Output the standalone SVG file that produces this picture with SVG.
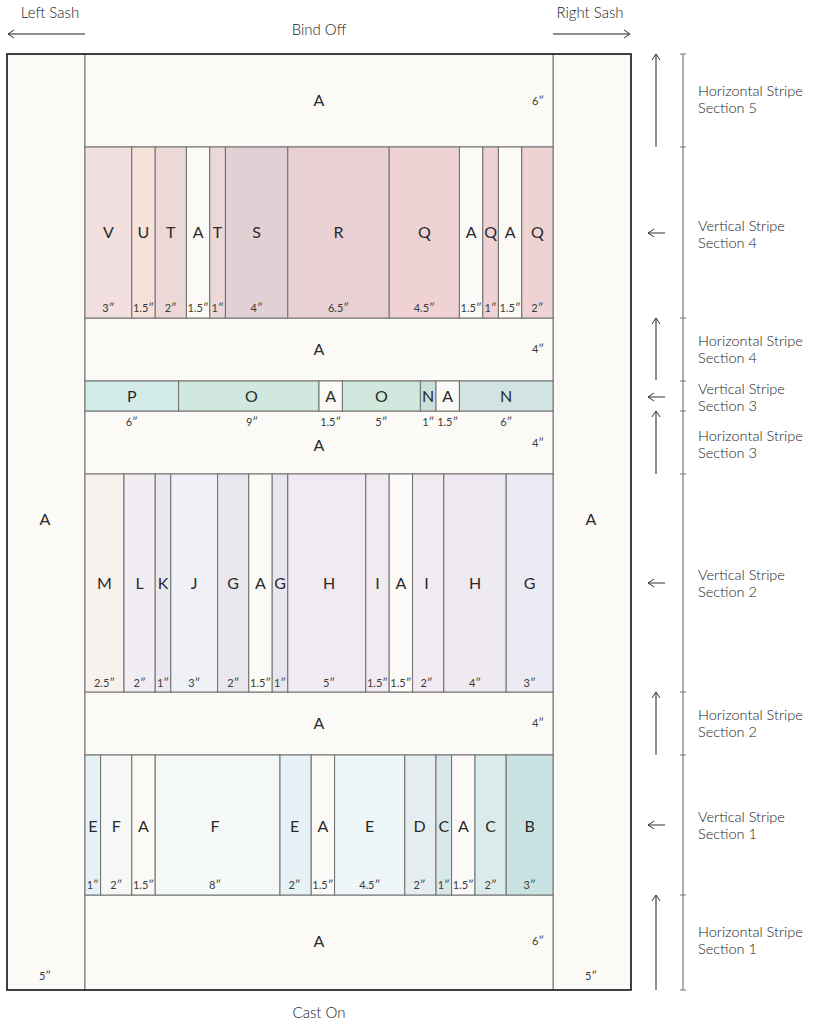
<svg xmlns="http://www.w3.org/2000/svg" width="819" height="1024" viewBox="0 0 819 1024">
<style>
.bg{fill:#ffffff}
.p{stroke:#6e6e6e;stroke-width:1}
.cr{fill:#fcfaf6}
.L{font-family:Lato,"Open Sans","Liberation Sans",sans-serif;font-size:16px;fill:#2a2a2a;text-anchor:middle}
.w{font-family:Lato,"Open Sans","Liberation Sans",sans-serif;font-size:11px;fill:#3a3a3a;text-anchor:middle}
.t{font-family:Lato,"Open Sans","Liberation Sans",sans-serif;font-size:14.5px;font-weight:300;fill:#222}
.h{font-family:Lato,"Open Sans","Liberation Sans",sans-serif;font-size:15px;font-weight:300;fill:#222;text-anchor:middle}
.ar{stroke:#6a6a6a;stroke-width:1.5;fill:none}
.ah{stroke:#333;stroke-width:1;fill:none}
.sc{stroke:#777;stroke-width:1.2;fill:none}
</style>
<defs>
<marker id="head" markerWidth="10" markerHeight="10" refX="9" refY="5" orient="auto" markerUnits="userSpaceOnUse">
<path d="M3,1 L9,5 L3,9" fill="none" stroke="#333" stroke-width="1"/>
</marker>
</defs>
<rect class="bg" x="0" y="0" width="819" height="1024"/>

<!-- Header labels -->
<text class="h" x="50" y="18">Left Sash</text>
<text class="h" x="319" y="35">Bind Off</text>
<text class="h" x="590" y="18">Right Sash</text>
<text class="h" x="319" y="1018">Cast On</text>

<!-- Sashes -->
<g id="left-sash"><rect class="cr p" x="7" y="54" width="78" height="936"/><text class="L" x="45" y="525">A</text><text class="w" x="45" y="980">5″</text></g>
<g id="right-sash"><rect class="cr p" x="553" y="54" width="78" height="936"/><text class="L" x="591" y="525">A</text><text class="w" x="591" y="980">5″</text></g>

<!-- Horizontal stripes -->
<g id="hs5"><rect class="cr p" x="85" y="54" width="468" height="93"/><text class="L" x="319" y="106">A</text><text class="w" x="538" y="105">6″</text></g>
<g id="hs4"><rect class="cr p" x="85" y="318" width="468" height="63"/><text class="L" x="319" y="355">A</text><text class="w" x="538" y="353">4″</text></g>
<g id="hs3"><rect class="cr p" x="85" y="411" width="468" height="63"/><text class="L" x="319" y="451">A</text><text class="w" x="538" y="447">4″</text></g>
<g id="hs2"><rect class="cr p" x="85" y="692" width="468" height="63"/><text class="L" x="319" y="729">A</text><text class="w" x="538" y="727">4″</text></g>
<g id="hs1"><rect class="cr p" x="85" y="895" width="468" height="95"/><text class="L" x="319" y="947">A</text><text class="w" x="538" y="945">6″</text></g>

<!-- Vertical stripe section 4 -->
<g id="v4-V"><rect class="p" fill="#f2dfe0" x="85" y="147" width="46.8" height="171"/><text class="L" x="108.4" y="238">V</text><text class="w" x="108.4" y="312">3″</text></g>
<g id="v4-U"><rect class="p" fill="#f6e2d8" x="131.8" y="147" width="23.4" height="171"/><text class="L" x="143.5" y="238">U</text><text class="w" x="143.5" y="312">1.5″</text></g>
<g id="v4-T1"><rect class="p" fill="#ecd8d6" x="155.2" y="147" width="31.2" height="171"/><text class="L" x="170.8" y="238">T</text><text class="w" x="170.8" y="312">2″</text></g>
<g id="v4-A1"><rect class="p cr" x="186.4" y="147" width="23.4" height="171"/><text class="L" x="198.1" y="238">A</text><text class="w" x="198.1" y="312">1.5″</text></g>
<g id="v4-T2"><rect class="p" fill="#ecd8d6" x="209.8" y="147" width="15.6" height="171"/><text class="L" x="217.6" y="238">T</text><text class="w" x="217.6" y="312">1″</text></g>
<g id="v4-S"><rect class="p" fill="#e2d1d4" x="225.4" y="147" width="62.4" height="171"/><text class="L" x="256.6" y="238">S</text><text class="w" x="256.6" y="312">4″</text></g>
<g id="v4-R"><rect class="p" fill="#e9d0d4" x="287.8" y="147" width="101.4" height="171"/><text class="L" x="338.5" y="238">R</text><text class="w" x="338.5" y="312">6.5″</text></g>
<g id="v4-Q1"><rect class="p" fill="#eed2d4" x="389.2" y="147" width="70.2" height="171"/><text class="L" x="424.3" y="238">Q</text><text class="w" x="424.3" y="312">4.5″</text></g>
<g id="v4-A2"><rect class="p cr" x="459.4" y="147" width="23.4" height="171"/><text class="L" x="471.1" y="238">A</text><text class="w" x="471.1" y="312">1.5″</text></g>
<g id="v4-Q2"><rect class="p" fill="#eed2d4" x="482.8" y="147" width="15.6" height="171"/><text class="L" x="490.6" y="238">Q</text><text class="w" x="490.6" y="312">1″</text></g>
<g id="v4-A3"><rect class="p cr" x="498.4" y="147" width="23.4" height="171"/><text class="L" x="510.1" y="238">A</text><text class="w" x="510.1" y="312">1.5″</text></g>
<g id="v4-Q3"><rect class="p" fill="#efd3d3" x="521.8" y="147" width="31.2" height="171"/><text class="L" x="537.4" y="238">Q</text><text class="w" x="537.4" y="312">2″</text></g>

<!-- Vertical stripe section 3 -->
<g id="v3-P"><rect class="p" fill="#d4ece8" x="85" y="381" width="93.6" height="30"/><text class="L" x="131.8" y="402">P</text><text class="w" x="131.8" y="426">6″</text></g>
<g id="v3-O1"><rect class="p" fill="#d0e8dd" x="178.6" y="381" width="140.4" height="30"/><text class="L" x="251.5" y="402">O</text><text class="w" x="252" y="426">9″</text></g>
<g id="v3-A1"><rect class="p cr" x="319" y="381" width="23.4" height="30"/><text class="L" x="330.7" y="402">A</text><text class="w" x="330.7" y="426">1.5″</text></g>
<g id="v3-O2"><rect class="p" fill="#d0e8dd" x="342.4" y="381" width="78" height="30"/><text class="L" x="381.4" y="402">O</text><text class="w" x="381.4" y="426">5″</text></g>
<g id="v3-N1"><rect class="p" fill="#c9e0dd" x="420.4" y="381" width="15.6" height="30"/><text class="L" x="428.2" y="402">N</text><text class="w" x="428.2" y="426">1″</text></g>
<g id="v3-A2"><rect class="p cr" x="436" y="381" width="23.4" height="30"/><text class="L" x="447.7" y="402">A</text><text class="w" x="447.7" y="426">1.5″</text></g>
<g id="v3-N2"><rect class="p" fill="#d1e4e2" x="459.4" y="381" width="93.6" height="30"/><text class="L" x="506.2" y="402">N</text><text class="w" x="506.2" y="426">6″</text></g>

<!-- Vertical stripe section 2 -->
<g id="v2-M"><rect class="p" fill="#f8f2ef" x="85" y="474" width="39" height="218"/><text class="L" x="104.5" y="589">M</text><text class="w" x="104.5" y="687">2.5″</text></g>
<g id="v2-L"><rect class="p" fill="#f2edf2" x="124" y="474" width="31.2" height="218"/><text class="L" x="139.6" y="589">L</text><text class="w" x="139.6" y="687">2″</text></g>
<g id="v2-K"><rect class="p" fill="#ebe8f0" x="155.2" y="474" width="15.6" height="218"/><text class="L" x="163" y="589">K</text><text class="w" x="163" y="687">1″</text></g>
<g id="v2-J"><rect class="p" fill="#eff1f7" x="170.8" y="474" width="46.8" height="218"/><text class="L" x="194.2" y="589">J</text><text class="w" x="194.2" y="687">3″</text></g>
<g id="v2-G1"><rect class="p" fill="#e9e6ee" x="217.6" y="474" width="31.2" height="218"/><text class="L" x="233.2" y="589">G</text><text class="w" x="233.2" y="687">2″</text></g>
<g id="v2-A1"><rect class="p cr" x="248.8" y="474" width="23.4" height="218"/><text class="L" x="260.5" y="589">A</text><text class="w" x="260.5" y="687">1.5″</text></g>
<g id="v2-G2"><rect class="p" fill="#e8e6ef" x="272.2" y="474" width="15.6" height="218"/><text class="L" x="280" y="589">G</text><text class="w" x="280" y="687">1″</text></g>
<g id="v2-H1"><rect class="p" fill="#f0ebf2" x="287.8" y="474" width="78" height="218"/><text class="L" x="329" y="589">H</text><text class="w" x="329" y="687">5″</text></g>
<g id="v2-I1"><rect class="p" fill="#f1ebf1" x="365.8" y="474" width="23.4" height="218"/><text class="L" x="377.5" y="589">I</text><text class="w" x="377.5" y="687">1.5″</text></g>
<g id="v2-A2"><rect class="p cr" x="389.2" y="474" width="23.4" height="218"/><text class="L" x="400.9" y="589">A</text><text class="w" x="400.9" y="687">1.5″</text></g>
<g id="v2-I2"><rect class="p" fill="#f1ebf1" x="412.6" y="474" width="31.2" height="218"/><text class="L" x="426.5" y="589">I</text><text class="w" x="426.5" y="687">2″</text></g>
<g id="v2-H2"><rect class="p" fill="#efe9f1" x="443.8" y="474" width="62.4" height="218"/><text class="L" x="475" y="589">H</text><text class="w" x="475" y="687">4″</text></g>
<g id="v2-G3"><rect class="p" fill="#ecebf3" x="506.2" y="474" width="46.8" height="218"/><text class="L" x="529.6" y="589">G</text><text class="w" x="529.6" y="687">3″</text></g>

<!-- Vertical stripe section 1 -->
<g id="v1-E1"><rect class="p" fill="#e6f1f5" x="85" y="755" width="15.6" height="140"/><text class="L" x="92.8" y="832">E</text><text class="w" x="92.8" y="889">1″</text></g>
<g id="v1-F1"><rect class="p" fill="#f5f8f6" x="100.6" y="755" width="31.2" height="140"/><text class="L" x="116.2" y="832">F</text><text class="w" x="116.2" y="889">2″</text></g>
<g id="v1-A1"><rect class="p cr" x="131.8" y="755" width="23.4" height="140"/><text class="L" x="143.5" y="832">A</text><text class="w" x="143.5" y="889">1.5″</text></g>
<g id="v1-F2"><rect class="p" fill="#f4f9f7" x="155.2" y="755" width="124.8" height="140"/><text class="L" x="215" y="832">F</text><text class="w" x="215" y="889">8″</text></g>
<g id="v1-E2"><rect class="p" fill="#e7f2f6" x="280" y="755" width="31.2" height="140"/><text class="L" x="294.5" y="832">E</text><text class="w" x="294.5" y="889">2″</text></g>
<g id="v1-A2"><rect class="p cr" x="311.2" y="755" width="23.4" height="140"/><text class="L" x="322.9" y="832">A</text><text class="w" x="322.9" y="889">1.5″</text></g>
<g id="v1-E3"><rect class="p" fill="#eef6f8" x="334.6" y="755" width="70.2" height="140"/><text class="L" x="369.7" y="832">E</text><text class="w" x="369.7" y="889">4.5″</text></g>
<g id="v1-D"><rect class="p" fill="#e6edf0" x="404.8" y="755" width="31.2" height="140"/><text class="L" x="419.5" y="832">D</text><text class="w" x="419.5" y="889">2″</text></g>
<g id="v1-C1"><rect class="p" fill="#d8e8ea" x="436" y="755" width="15.6" height="140"/><text class="L" x="443.8" y="832">C</text><text class="w" x="443.8" y="889">1″</text></g>
<g id="v1-A3"><rect class="p cr" x="451.6" y="755" width="23.4" height="140"/><text class="L" x="463.3" y="832">A</text><text class="w" x="463.3" y="889">1.5″</text></g>
<g id="v1-C2"><rect class="p" fill="#dbeaea" x="475" y="755" width="31.2" height="140"/><text class="L" x="490.6" y="832">C</text><text class="w" x="490.6" y="889">2″</text></g>
<g id="v1-B"><rect class="p" fill="#c9e3e3" x="506.2" y="755" width="46.8" height="140"/><text class="L" x="529.6" y="832">B</text><text class="w" x="529.6" y="889">3″</text></g>

<!-- Outer border -->
<rect x="7" y="54" width="624" height="936" fill="none" stroke="#222" stroke-width="1.6"/>

<!-- Section scale on right -->
<g id="scale">
<line class="sc" x1="683" y1="54" x2="683" y2="990"/>
<path class="sc" d="M680,54h6M680,147h6M680,318h6M680,381h6M680,411h6M680,474h6M680,692h6M680,755h6M680,895h6M680,990h6"/>
</g>

<!-- Section labels -->
<g id="lbl-h5"><text class="t" x="698" y="96">Horizontal Stripe</text><text class="t" x="698" y="113">Section 5</text></g>
<g id="lbl-v4"><text class="t" x="698" y="231">Vertical Stripe</text><text class="t" x="698" y="248">Section 4</text></g>
<g id="lbl-h4"><text class="t" x="698" y="346">Horizontal Stripe</text><text class="t" x="698" y="363">Section 4</text></g>
<g id="lbl-v3"><text class="t" x="698" y="394">Vertical Stripe</text><text class="t" x="698" y="411">Section 3</text></g>
<g id="lbl-h3"><text class="t" x="698" y="441">Horizontal Stripe</text><text class="t" x="698" y="458">Section 3</text></g>
<g id="lbl-v2"><text class="t" x="698" y="580">Vertical Stripe</text><text class="t" x="698" y="597">Section 2</text></g>
<g id="lbl-h2"><text class="t" x="698" y="720">Horizontal Stripe</text><text class="t" x="698" y="737">Section 2</text></g>
<g id="lbl-v1"><text class="t" x="698" y="822">Vertical Stripe</text><text class="t" x="698" y="839">Section 1</text></g>
<g id="lbl-h1"><text class="t" x="698" y="937">Horizontal Stripe</text><text class="t" x="698" y="954">Section 1</text></g>

<!-- Connectors / direction arrows -->
<g id="connectors">
<line class="ar" x1="85" y1="34" x2="8" y2="34" marker-end="url(#head)"/>
<line class="ar" x1="553" y1="34" x2="630" y2="34" marker-end="url(#head)"/>
<line class="ar" x1="656" y1="147" x2="656" y2="54" marker-end="url(#head)"/>
<line class="ar" x1="656" y1="380" x2="656" y2="318" marker-end="url(#head)"/>
<line class="ar" x1="656" y1="474" x2="656" y2="411" marker-end="url(#head)"/>
<line class="ar" x1="656" y1="755" x2="656" y2="692" marker-end="url(#head)"/>
<line class="ar" x1="656" y1="990" x2="656" y2="895" marker-end="url(#head)"/>
<line class="ah" x1="665" y1="233" x2="648" y2="233" marker-end="url(#head)"/>
<line class="ah" x1="665" y1="397" x2="648" y2="397" marker-end="url(#head)"/>
<line class="ah" x1="665" y1="583" x2="648" y2="583" marker-end="url(#head)"/>
<line class="ah" x1="665" y1="825" x2="648" y2="825" marker-end="url(#head)"/>
</g>
</svg>
